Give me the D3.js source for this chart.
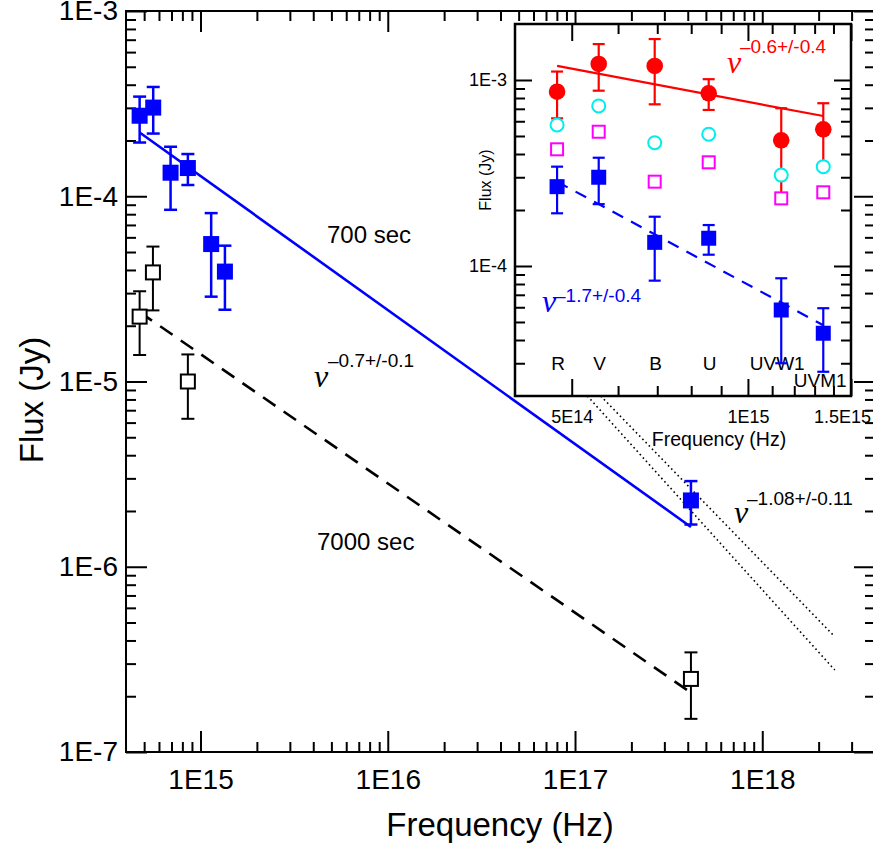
<!DOCTYPE html>
<html>
<head>
<meta charset="utf-8">
<script src="https://cdn.jsdelivr.net/npm/d3@7"></script>
<style>
body { margin: 0; background: #fff; }
svg { display: block; font-family: "Liberation Sans", Arial, sans-serif; }
</style>
</head>
<body>
<div id="chart"></div>
<script>
// ---- main plot: frequency (Hz) / flux (Jy) ----
var freq700 = [4.73e14, 5.59e14, 6.92e14, 8.56e14, 1.14e15, 1.35e15, 4.16e17];
var flux700 = [2.72e-4, 3.01e-4, 1.34e-4, 1.42e-4, 5.52e-5, 3.92e-5, 2.28e-6];
var hi700   = [3.45e-4, 3.89e-4, 1.85e-4, 1.69e-4, 8.11e-5, 5.41e-5, 2.90e-6];
var lo700   = [1.95e-4, 2.18e-4, 8.45e-5, 1.15e-4, 2.87e-5, 2.44e-5, 1.69e-6];

var freq7000 = [4.73e14, 5.57e14, 8.56e14, 4.16e17];
var flux7000 = [2.24e-5, 3.88e-5, 1.00e-5, 2.48e-7];
var hi7000   = [3.07e-5, 5.35e-5, 1.40e-5, 3.45e-7];
var lo7000   = [1.39e-5, 2.42e-5, 6.29e-6, 1.51e-7];

// power law fits (end points)
var fitFreq = [4.73e14, 4.16e17];
var fit700  = [2.21e-4, 1.64e-6];
var fit7000 = [2.37e-5, 2.09e-7];

// x-ray slope range, starts behind the inset
var xrFreq  = [1e17, 2.44e18];
var xrUpper = [1.16e-5, 4.19e-7];
var xrLower = [9.9e-6, 2.77e-7];

var xMajor = [1e15, 1e16, 1e17, 1e18];
var yMajor = [1e-3, 1e-4, 1e-5, 1e-6, 1e-7];

// ---- inset ----
var filters  = ["R", "V", "B", "U", "UVW1", "UVM1"];
var filtFreq = [4.72e14, 5.56e14, 6.93e14, 8.57e14, 1.14e15, 1.345e15];
var redFlux  = [8.65e-4, 1.22e-3, 1.19e-3, 8.48e-4, 4.74e-4, 5.43e-4];
var redHi    = [1.11e-3, 1.56e-3, 1.66e-3, 1.01e-3, 7.05e-4, 7.50e-4];
var redLo    = [6.22e-4, 8.76e-4, 7.40e-4, 6.90e-4, 2.46e-4, 3.36e-4];
var cyanFlux = [5.73e-4, 7.25e-4, 4.60e-4, 5.11e-4, 3.08e-4, 3.42e-4];
var magFlux  = [4.24e-4, 5.27e-4, 2.84e-4, 3.61e-4, 2.31e-4, 2.49e-4];
var blueFlux = [2.67e-4, 3.00e-4, 1.34e-4, 1.41e-4, 5.80e-5, 4.35e-5];
var blueHi   = [3.42e-4, 3.82e-4, 1.84e-4, 1.66e-4, 8.59e-5, 5.93e-5];
var blueLo   = [1.92e-4, 2.15e-4, 8.34e-5, 1.15e-4, 3.00e-5, 2.70e-5];
var insetFitFreq = [4.72e14, 1.345e15];
var redFit  = [1.19e-3, 6.40e-4];
var blueFit = [2.84e-4, 4.80e-5];

var insetXTicks = [5e14, 1e15, 1.5e15];
var insetXLabels = ["5E14", "1E15", "1.5E15"];
var insetYTicks = [1e-3, 1e-4];

var svg = d3.select("#chart").append("svg")
    .attr("width", 873)
    .attr("height", 848);

var x = d3.scaleLog().domain([4e14, 4e18]).range([126, 875]);
var y = d3.scaleLog().domain([1e-7, 1e-3]).range([752, 11]);

function minorTicks(lo, hi) {
    var out = [];
    for (var e = Math.floor(Math.log10(lo)); e <= Math.ceil(Math.log10(hi)); e++) {
        for (var m = 2; m <= 9; m++) {
            var v = m * Math.pow(10, e);
            if (v > lo * 1.001 && v < hi * 0.999) out.push(v);
        }
    }
    return out;
}

function fmtE(d) { return "1E" + Math.round(Math.log10(d)); }

function styleAxis(g, size) {
    g.select(".domain").remove();
    g.selectAll(".tick line").attr("stroke", "#000").attr("stroke-width", 2);
    g.selectAll(".tick text")
        .attr("fill", "#000")
        .attr("font-family", "Liberation Sans, Arial, sans-serif")
        .attr("font-size", size);
}

function errorBars(g, xs, ys, his, los, xs_, ys_, color, w, cap) {
    var data = xs.map(function (f, i) { return { f: f, hi: his[i], lo: los[i] }; });
    var eb = g.append("g").attr("stroke", color).attr("stroke-width", w);
    eb.selectAll(".v").data(data).enter().append("line")
        .attr("x1", function (d) { return xs_(d.f); })
        .attr("x2", function (d) { return xs_(d.f); })
        .attr("y1", function (d) { return ys_(d.hi); })
        .attr("y2", function (d) { return ys_(d.lo); });
    ["hi", "lo"].forEach(function (k) {
        eb.selectAll(".c" + k).data(data).enter().append("line")
            .attr("x1", function (d) { return xs_(d.f) - cap; })
            .attr("x2", function (d) { return xs_(d.f) + cap; })
            .attr("y1", function (d) { return ys_(d[k]); })
            .attr("y2", function (d) { return ys_(d[k]); });
    });
}

function squares(g, xs, ys, xs_, ys_, size, fill, stroke, sw) {
    g.selectAll(null).data(xs).enter().append("rect")
        .attr("x", function (d) { return xs_(d) - size / 2; })
        .attr("y", function (d, i) { return ys_(ys[i]) - size / 2; })
        .attr("width", size)
        .attr("height", size)
        .attr("fill", fill)
        .attr("stroke", stroke)
        .attr("stroke-width", sw);
}

function line2(g, fx, fy, xs_, ys_, color, w, dash) {
    g.append("line")
        .attr("x1", xs_(fx[0])).attr("y1", ys_(fy[0]))
        .attr("x2", xs_(fx[1])).attr("y2", ys_(fy[1]))
        .attr("stroke", color)
        .attr("stroke-width", w)
        .attr("stroke-dasharray", dash || null);
}

// ---------- main axes ----------
var minorX = minorTicks(4e14, 4e18);
var minorY = minorTicks(1e-7, 1e-3);

svg.append("g").attr("transform", "translate(0,752)")
    .call(d3.axisBottom(x).tickValues(xMajor).tickSize(-21).tickPadding(17).tickFormat(fmtE))
    .call(styleAxis, 28);
svg.append("g").attr("transform", "translate(0,752)")
    .call(d3.axisBottom(x).tickValues(minorX).tickSize(-10).tickFormat(""))
    .call(styleAxis, 0);
svg.append("g").attr("transform", "translate(0,11)")
    .call(d3.axisTop(x).tickValues(xMajor).tickSize(-21).tickFormat(""))
    .call(styleAxis, 0);
svg.append("g").attr("transform", "translate(0,11)")
    .call(d3.axisTop(x).tickValues(minorX).tickSize(-10).tickFormat(""))
    .call(styleAxis, 0);
svg.append("g").attr("transform", "translate(126,0)")
    .call(d3.axisLeft(y).tickValues(yMajor).tickSize(-21).tickPadding(8).tickFormat(fmtE))
    .call(styleAxis, 28);
svg.append("g").attr("transform", "translate(126,0)")
    .call(d3.axisLeft(y).tickValues(minorY).tickSize(-10).tickFormat(""))
    .call(styleAxis, 0);
svg.append("g").attr("transform", "translate(875,0)")
    .call(d3.axisRight(y).tickValues(yMajor).tickSize(-21).tickFormat(""))
    .call(styleAxis, 0);
svg.append("g").attr("transform", "translate(875,0)")
    .call(d3.axisRight(y).tickValues(minorY).tickSize(-10).tickFormat(""))
    .call(styleAxis, 0);

svg.append("rect")
    .attr("x", 126).attr("y", 11)
    .attr("width", 749).attr("height", 741)
    .attr("fill", "none").attr("stroke", "#000").attr("stroke-width", 2);

// axis titles
svg.append("text")
    .attr("x", 500).attr("y", 836)
    .attr("text-anchor", "middle")
    .attr("font-size", 33)
    .text("Frequency (Hz)");
svg.append("text")
    .attr("transform", "translate(43,400) rotate(-90)")
    .attr("text-anchor", "middle")
    .attr("font-size", 33)
    .text("Flux (Jy)");

// ---------- main data ----------
var main = svg.append("g");
line2(main, xrFreq, xrUpper, x, y, "#000", 1.6, "1.6,3");
line2(main, xrFreq, xrLower, x, y, "#000", 1.6, "1.6,3");
line2(main, fitFreq, fit700, x, y, "#0000ff", 2.6);
line2(main, fitFreq, fit7000, x, y, "#000", 2.6, "15,10");

errorBars(main, freq7000, flux7000, hi7000, lo7000, x, y, "#000", 2, 6.5);
errorBars(main, freq700, flux700, hi700, lo700, x, y, "#0000ff", 2.5, 6.5);
squares(main, freq7000, flux7000, x, y, 14, "#fff", "#000", 2);
squares(main, freq700, flux700, x, y, 16, "#0000ff", "none", 0);

// annotations
svg.append("text").attr("x", 327).attr("y", 243).attr("font-size", 24).text("700 sec");
svg.append("text").attr("x", 317).attr("y", 550).attr("font-size", 24).text("7000 sec");

function nuLabel(xn, yn, xs, ys, txt, color) {
    svg.append("text")
        .attr("x", xn).attr("y", yn)
        .attr("font-family", "Liberation Serif, Times New Roman, serif")
        .attr("font-style", "italic")
        .attr("font-size", 32)
        .attr("fill", color)
        .text("\u03BD");
    svg.append("text")
        .attr("x", xs).attr("y", ys)
        .attr("font-size", 19)
        .attr("fill", color)
        .text(txt);
}
nuLabel(314, 387, 328, 367, "\u20130.7+/-0.1", "#000");
nuLabel(734, 523, 747, 505, "\u20131.08+/-0.11", "#000");

// ---------- inset ----------
var xi = d3.scaleLog().domain([4e14, 1.5e15]).range([515, 851]);
var yi = d3.scaleLog().domain([2e-5, 2e-3]).range([396, 24]);

var inset = svg.append("g");
inset.append("rect")
    .attr("x", 515).attr("y", 24)
    .attr("width", 336).attr("height", 372)
    .attr("fill", "#fff");

var minorXi = [6e14, 7e14, 8e14, 9e14, 1.1e15, 1.2e15, 1.3e15, 1.4e15];
var minorYi = minorTicks(2e-5, 2e-3);

inset.append("g").attr("transform", "translate(0,396)")
    .call(d3.axisBottom(xi).tickValues(insetXTicks).tickSize(-17).tickPadding(14)
        .tickFormat(function (d, i) { return insetXLabels[i]; }))
    .call(styleAxis, 18)
    .call(function (g) {
        // last label sits on the frame edge, pull it inside the window
        g.selectAll(".tick text").filter(function (d) { return d === 1.5e15; }).attr("dx", -9);
    });
inset.append("g").attr("transform", "translate(0,396)")
    .call(d3.axisBottom(xi).tickValues(minorXi).tickSize(-10).tickFormat(""))
    .call(styleAxis, 0);
inset.append("g").attr("transform", "translate(0,24)")
    .call(d3.axisTop(xi).tickValues(insetXTicks).tickSize(-17).tickFormat(""))
    .call(styleAxis, 0);
inset.append("g").attr("transform", "translate(0,24)")
    .call(d3.axisTop(xi).tickValues(minorXi).tickSize(-10).tickFormat(""))
    .call(styleAxis, 0);
inset.append("g").attr("transform", "translate(515,0)")
    .call(d3.axisLeft(yi).tickValues(insetYTicks).tickSize(-17).tickPadding(8).tickFormat(fmtE))
    .call(styleAxis, 18);
inset.append("g").attr("transform", "translate(515,0)")
    .call(d3.axisLeft(yi).tickValues(minorYi).tickSize(-10).tickFormat(""))
    .call(styleAxis, 0);
inset.append("g").attr("transform", "translate(851,0)")
    .call(d3.axisRight(yi).tickValues(insetYTicks).tickSize(-17).tickFormat(""))
    .call(styleAxis, 0);
inset.append("g").attr("transform", "translate(851,0)")
    .call(d3.axisRight(yi).tickValues(minorYi).tickSize(-10).tickFormat(""))
    .call(styleAxis, 0);

inset.append("rect")
    .attr("x", 515).attr("y", 24)
    .attr("width", 336).attr("height", 372)
    .attr("fill", "none").attr("stroke", "#000").attr("stroke-width", 2.5);

inset.append("text")
    .attr("x", 719).attr("y", 446)
    .attr("text-anchor", "middle")
    .attr("font-size", 19.5)
    .text("Frequency (Hz)");
inset.append("text")
    .attr("transform", "translate(491,180) rotate(-90)")
    .attr("text-anchor", "middle")
    .attr("font-size", 16)
    .text("Flux (Jy)");

// filter names
inset.selectAll(".filt").data(filters).enter().append("text")
    .attr("x", function (d, i) { return xi(filtFreq[i]); })
    .attr("y", 370)
    .attr("dx", function (d) { return d === "UVW1" ? -4 : (d === "UVM1" ? -3 : 1); })
    .attr("dy", function (d) { return d === "UVM1" ? 17 : 0; })
    .attr("text-anchor", "middle")
    .attr("font-size", 19)
    .text(function (d) { return d; });

line2(inset, insetFitFreq, blueFit, xi, yi, "#0000ff", 2.2, "12,9");
line2(inset, insetFitFreq, redFit, xi, yi, "#ff0000", 2.2);

errorBars(inset, filtFreq, redFlux, redHi, redLo, xi, yi, "#ff0000", 2.2, 6);
errorBars(inset, filtFreq, blueFlux, blueHi, blueLo, xi, yi, "#0000ff", 2.2, 6);

inset.selectAll(".red").data(filtFreq).enter().append("circle")
    .attr("cx", function (d) { return xi(d); })
    .attr("cy", function (d, i) { return yi(redFlux[i]); })
    .attr("r", 8.3)
    .attr("fill", "#ff0000");
inset.selectAll(".cyan").data(filtFreq).enter().append("circle")
    .attr("cx", function (d) { return xi(d); })
    .attr("cy", function (d, i) { return yi(cyanFlux[i]); })
    .attr("r", 6.5)
    .attr("fill", "#fff")
    .attr("stroke", "#00eeee")
    .attr("stroke-width", 2);
squares(inset, filtFreq, magFlux, xi, yi, 12, "#fff", "#ff00ff", 2);
squares(inset, filtFreq, blueFlux, xi, yi, 15, "#0000ff", "none", 0);

// inset slope labels
nuLabel(727, 73, 740, 53, "\u20130.6+/-0.4", "#ff0000");
nuLabel(542, 312, 555, 302, "\u20131.7+/-0.4", "#0000ff");
</script>
</body>
</html>
